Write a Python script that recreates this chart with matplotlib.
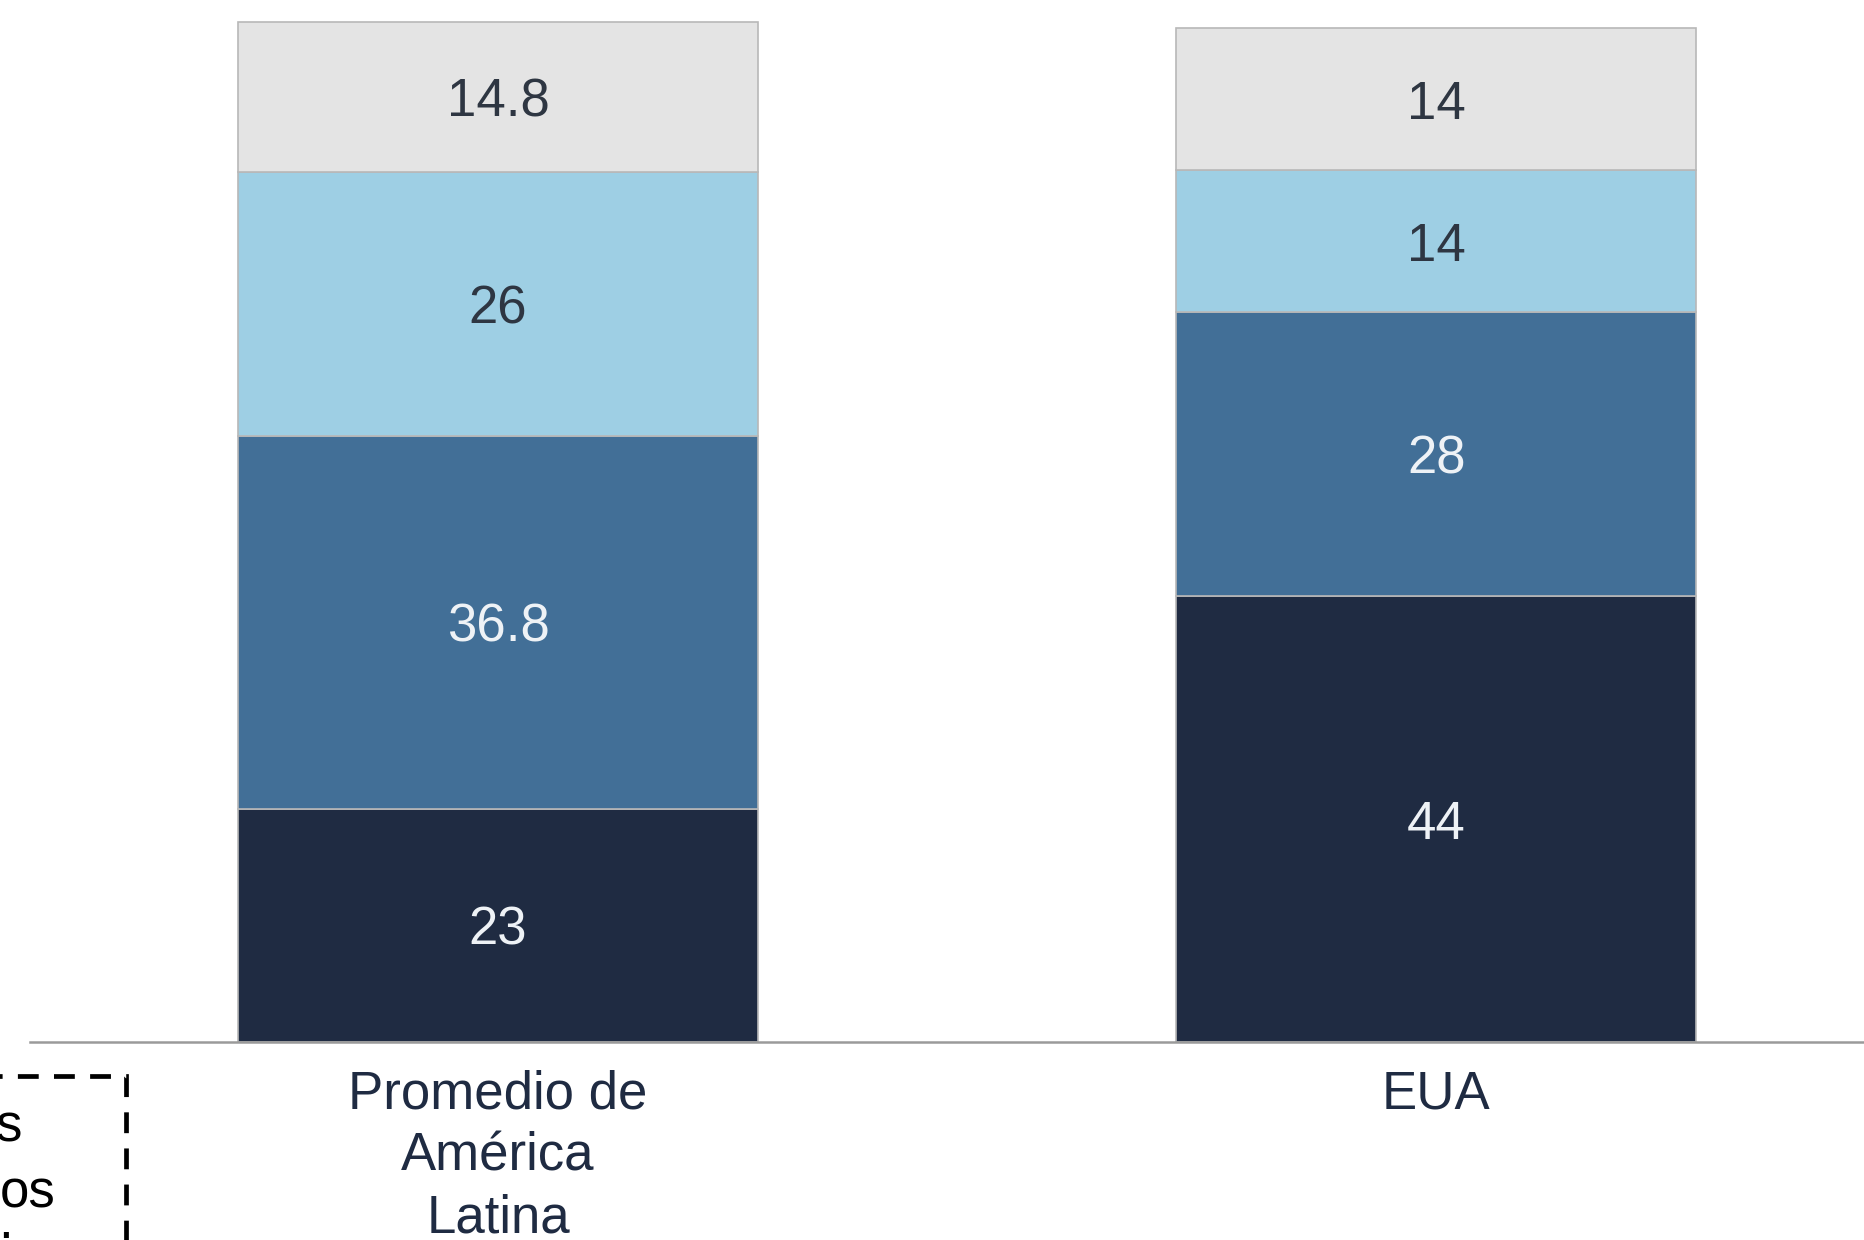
import matplotlib
matplotlib.use("Agg")
import matplotlib.pyplot as plt
import numpy as np
from matplotlib.patches import Rectangle

plt.rcParams['font.family'] = ['Liberation Sans', 'DejaVu Sans']
plt.rcParams['lines.scale_dashes'] = False

categories = ["Promedio de\nAmérica\nLatina", "EUA"]
seg_bottom = [23, 44]
seg_mid = [36.8, 28]
seg_light = [26, 14]
seg_top = [14.8, 14]
labels_bottom = ["23", "44"]
labels_mid = ["36.8", "28"]
labels_light = ["26", "14"]
labels_top = ["14.8", "14"]

colors = ["#1f2b42", "#426f97", "#9ecfe4", "#e4e4e4"]
text_colors = ["#eef2f6", "#eef2f6", "#2e3642", "#2e3642"]

W, H = 1865, 1240
fig = plt.figure(figsize=(W / 100, H / 100), dpi=100)
ax = fig.add_axes([30 / W, (H - 1042) / H, 1 - 30 / W, 1042 / H])

x = np.arange(len(categories))
width = 0.554
series = [seg_bottom, seg_mid, seg_light, seg_top]
series_labels = [labels_bottom, labels_mid, labels_light, labels_top]
bottom = np.zeros(len(categories))
for vals, labs, col, tcol in zip(series, series_labels, colors, text_colors):
    vals = np.array(vals)
    ax.bar(x, vals, width, bottom=bottom, color=col, edgecolor="#b8b8b8", linewidth=1.2, zorder=2)
    for xi, b, v, lab in zip(x, bottom, vals, labs):
        ax.text(xi, b + v / 2, lab, ha="center", va="center_baseline", fontsize=38, color=tcol, zorder=3)
    bottom = bottom + vals

ax.set_xlim(-0.499, 1.457)
ax.set_ylim(0, 102.8)
for s in ["top", "right", "left"]:
    ax.spines[s].set_visible(False)
ax.spines["bottom"].set_color("#9a9a9a")
ax.spines["bottom"].set_linewidth(1.8)
ax.set_yticks([])
ax.set_xticks(x)
ax.set_xticklabels(categories, fontsize=38, color="#1f2b42", linespacing=1.3)
ax.tick_params(axis="x", length=0, pad=20)

# cut-off note box at lower left
box = Rectangle((-60 / W, -40 / H), (126 + 60) / W, (1240 - 1076 + 40) / H,
                transform=fig.transFigure, fill=False, edgecolor="black",
                linewidth=3.4, linestyle=(0, (15, 11)), clip_on=False)
fig.patches.append(box)
note_kw = dict(ha="right", va="baseline", fontsize=38, color="black")
fig.text(22 / W, 1 - 1142 / H, "s", **note_kw)
fig.text(56 / W, 1 - 1207 / H, "os", **note_kw)
fig.text(13 / W, 1 - 1238 / H, ".", **note_kw)

fig.savefig("out.png", dpi=100)
